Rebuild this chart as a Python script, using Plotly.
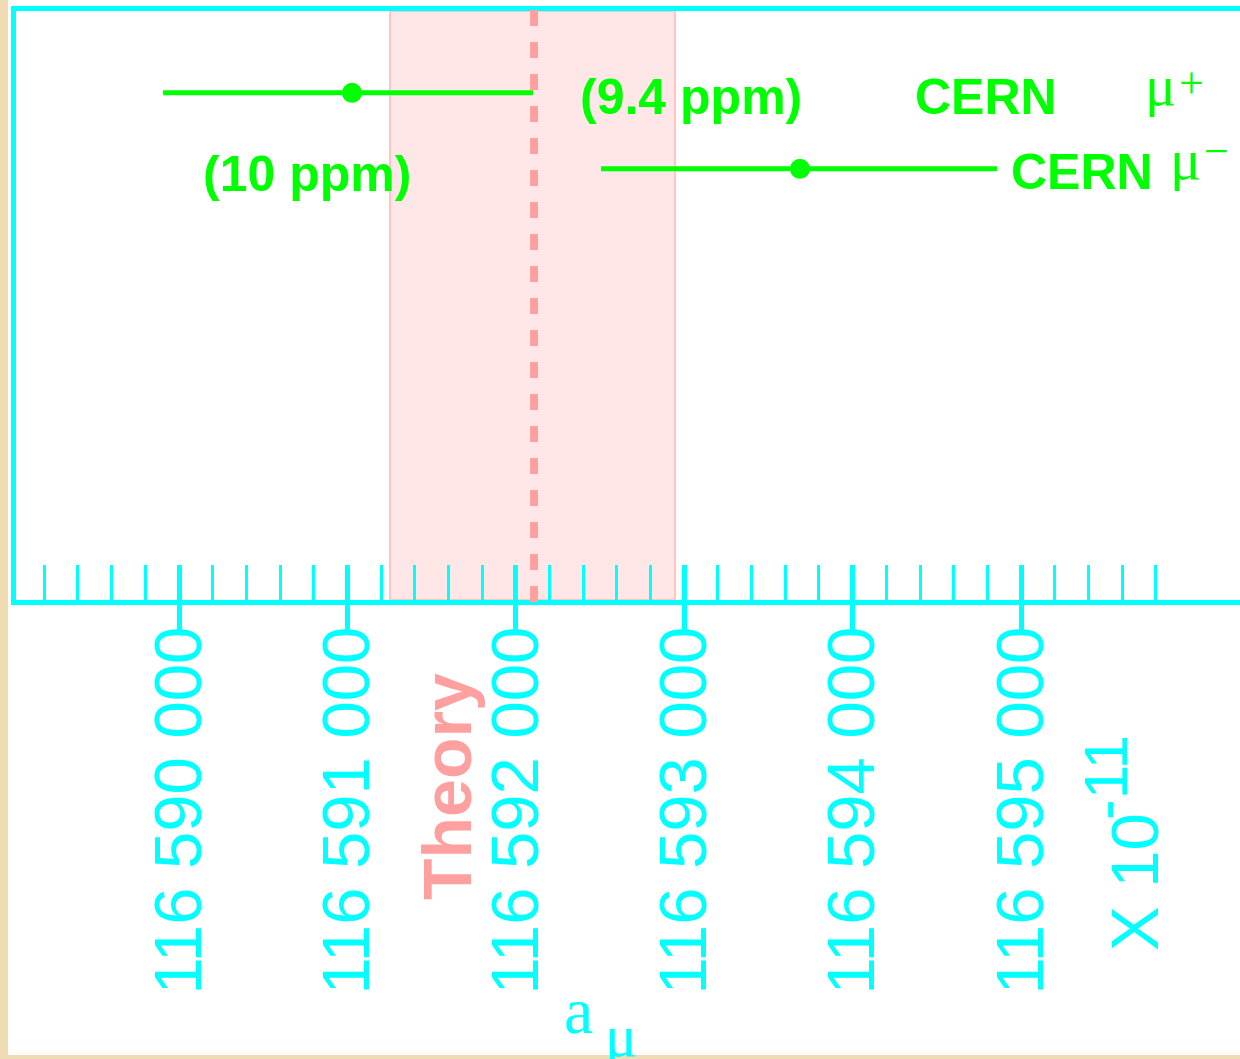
import plotly.graph_objects as go

# ---- data -------------------------------------------------------------
# axis window for a_mu (units of 1e-11)
X_RANGE = [116589032, 116596300]

major_ticks = [116590000, 116591000, 116592000, 116593000, 116594000, 116595000]
major_labels = ["116 590 000", "116 591 000", "116 592 000",
                "116 593 000", "116 594 000", "116 595 000"]
minor_ticks = list(range(116589200, 116595801, 200))

# CERN measurements: value, +error, -error
cern_labels = ["CERN \u03bc+", "CERN \u03bc\u2212"]
cern_values = [116591027, 116593687]
cern_err_plus = [1075, 1170]
cern_err_minus = [1122, 1181]
cern_rows = [0.861, 0.732]          # vertical slot of each measurement
cern_ppm = ["(10 ppm)", "(9.4 ppm)"]

# theory prediction and its band
theory_value = 116592108
theory_band = [116591253, 116592945]

# ---- style ------------------------------------------------------------
CYAN = "#00FFFF"
GREEN = "#00FF00"
PINK = "#FFA0A0"
BAND = "#FFE7E7"
BAND_EDGE = "#FFC4C4"
PARCHMENT = "#EFDCB2"
SANS = "Liberation Sans, Arial, sans-serif"
SERIF = "Liberation Serif, Times New Roman, serif"

W, H = 1240, 1059
PL, PR, PT, PB = 16, 1240, 11, 600  # plot-area edges in pixels


def fx(px):
    return (px - PL) / (PR - PL)


def fy(py):
    return (PB - py) / (PB - PT)


fig = go.Figure()

# measurements with horizontal error bars
for v, ep, em, yr, name in zip(cern_values, cern_err_plus, cern_err_minus,
                               cern_rows, cern_labels):
    fig.add_trace(go.Scatter(
        x=[v], y=[yr], mode="markers", name=name, showlegend=False,
        marker=dict(size=20, color=GREEN),
        error_x=dict(type="data", symmetric=False, array=[ep], arrayminus=[em],
                     color=GREEN, thickness=5, width=0),
        hoverinfo="x+name",
    ))

# companion axis carrying the inward major ticks
fig.add_trace(go.Scatter(x=[X_RANGE[0]], y=[0], mode="markers", xaxis="x2",
                         marker=dict(opacity=0), hoverinfo="skip",
                         showlegend=False))

shapes = [
    # white panel over the parchment page
    dict(type="rect", xref="paper", yref="paper", layer="below",
         x0=fx(8), x1=fx(1260), y0=fy(1055), y1=fy(-20),
         fillcolor="white", line=dict(width=0)),
    # theory band
    dict(type="rect", xref="x", yref="y", layer="below",
         x0=theory_band[0], x1=theory_band[1], y0=0, y1=1,
         fillcolor=BAND, line=dict(color=BAND_EDGE, width=2)),
    # theory central value
    dict(type="line", xref="x", yref="paper", layer="above",
         x0=theory_value, x1=theory_value, y0=fy(10), y1=fy(605),
         line=dict(color=PINK, width=8, dash="16px,16px")),
]

ann = []


def label(text, px, py, size, color, family=SANS, weight="normal", angle=0,
          xanchor="center", yanchor="middle"):
    ann.append(dict(text=text, x=fx(px), y=fy(py), xref="paper", yref="paper",
                    showarrow=False, textangle=angle, xanchor=xanchor,
                    yanchor=yanchor,
                    font=dict(family=family, size=size, color=color,
                              weight=weight)))


# measurement annotations
label(cern_ppm[0], 307, 174, 50, GREEN, weight="bold")
label(cern_ppm[1], 691, 97, 50, GREEN, weight="bold")
label("CERN", 986, 97, 50, GREEN, weight="bold")
label("\u03bc", 1143, 86, 58, GREEN, family=SERIF, xanchor="left")
label("+", 1177, 83, 44, GREEN, family=SERIF, xanchor="left")
label("CERN", 1082, 172, 50, GREEN, weight="bold")
label("\u03bc", 1168, 160, 58, GREEN, family=SERIF, xanchor="left")
label("\u2212", 1202, 151, 44, GREEN, family=SERIF, xanchor="left")

# theory label and axis titles
label("Theory", 447, 787, 68, PINK, weight="bold", angle=-90)
label("X 10", 1134, 882, 67, CYAN, angle=-90)
label("-11", 1105, 778, 62, CYAN, angle=-90)
label("a", 578, 1010, 66, CYAN, family=SERIF)
label("\u03bc", 621, 1036, 60, CYAN, family=SERIF)

fig.update_layout(
    width=W, height=H, autosize=False,
    margin=dict(l=PL, r=W - PR, t=PT, b=H - PB, pad=0),
    paper_bgcolor=PARCHMENT, plot_bgcolor="white",
    showlegend=False,
    shapes=shapes, annotations=ann,
    xaxis=dict(
        range=X_RANGE, showgrid=False, zeroline=False,
        showline=True, linecolor=CYAN, linewidth=5, mirror=True,
        tickmode="array", tickvals=major_ticks, ticktext=major_labels,
        ticks="outside", ticklen=28, tickwidth=5, tickcolor=CYAN,
        tickangle=-90, ticklabelstandoff=-33,
        tickfont=dict(family=SANS, size=67, color=CYAN),
        minor=dict(tickmode="array", tickvals=minor_ticks, ticks="inside",
                   ticklen=35, tickwidth=3, tickcolor=CYAN, showgrid=False),
        fixedrange=True,
    ),
    xaxis2=dict(
        range=X_RANGE, overlaying="x", anchor="y", side="bottom",
        showgrid=False, zeroline=False, showline=False,
        tickmode="array", tickvals=major_ticks, showticklabels=False,
        ticks="inside", ticklen=35, tickwidth=5, tickcolor=CYAN,
        fixedrange=True,
    ),
    yaxis=dict(
        range=[0, 1], showgrid=False, zeroline=False,
        showline=True, linecolor=CYAN, linewidth=5,
        showticklabels=False, ticks="", fixedrange=True,
    ),
)

fig.write_html("out.html")
